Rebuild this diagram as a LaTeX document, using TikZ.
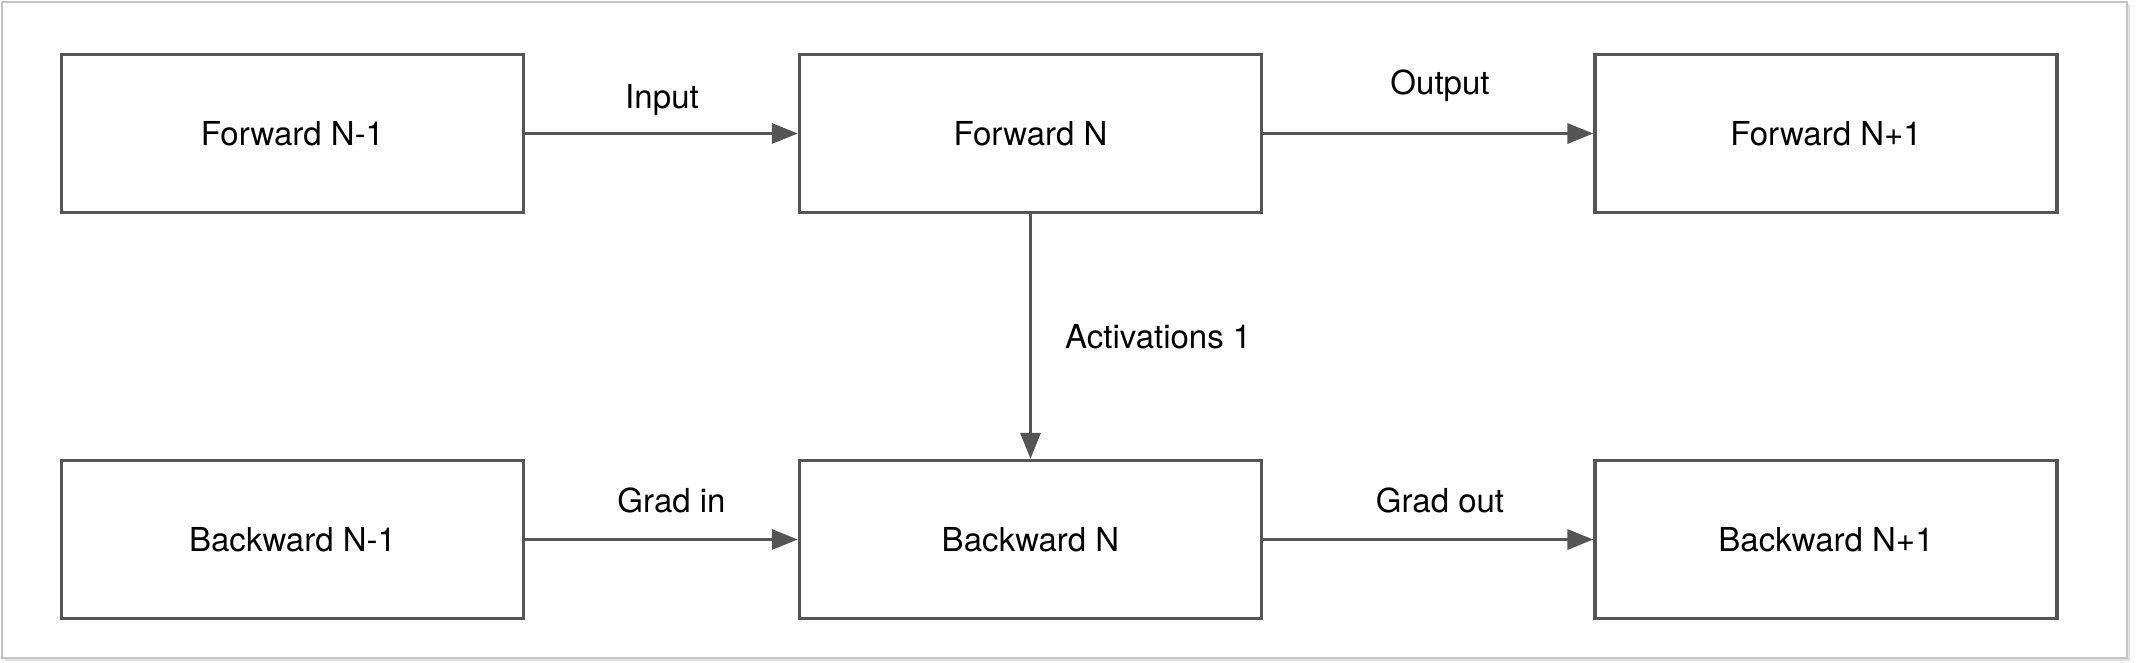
\documentclass[tikz,border=0pt]{standalone}
\usepackage{fontspec}
\setmainfont{TeX Gyre Heros}
\usetikzlibrary{arrows.meta}
\definecolor{edge}{HTML}{555555}
\definecolor{frame}{HTML}{C4C4C4}
\begin{document}
\begin{tikzpicture}[x=1pt,y=-1pt,
  box/.style={draw=edge, line width=3.4pt, fill=white, minimum width=462pt, minimum height=158pt, inner sep=0pt,
    font=\fontsize{33}{39}\selectfont},
  lbl/.style={inner sep=0pt, font=\fontsize{33}{39}\selectfont},
  arr/.style={draw=edge, line width=3.4pt, -{Triangle[length=26pt,width=20pt]}}]
\useasboundingbox (0,0) rectangle (2136,662);
\fill[black!12] (5,5) rectangle (2130,661);
\draw[frame, line width=1.5pt, fill=white] (2,2) rectangle (2127,658);
\node[box] (f1) at (292.5,133.5) {Forward N-1};
\node[box] (f2) at (1030.5,133.5) {Forward N};
\node[box] (f3) at (1826,133.5) {Forward N+1};
\node[box] (b1) at (292.5,539.5) {Backward N-1};
\node[box] (b2) at (1030.5,539.5) {Backward N};
\node[box] (b3) at (1826,539.5) {Backward N+1};
\draw[arr] (f1) -- (f2);
\draw[arr] (f2) -- (f3);
\draw[arr] (f2) -- (b2);
\draw[arr] (b1) -- (b2);
\draw[arr] (b2) -- (b3);
\node[lbl] (lin) at (662,100) {Input};
\node[lbl] (lout) at (1440,86) {Output};
\node[lbl, anchor=west] (lact) at (1065,337) {Activations 1};
\node[lbl] (lgin) at (671.5,500) {Grad in};
\node[lbl] (lgout) at (1440,500) {Grad out};
\end{tikzpicture}
\end{document}
